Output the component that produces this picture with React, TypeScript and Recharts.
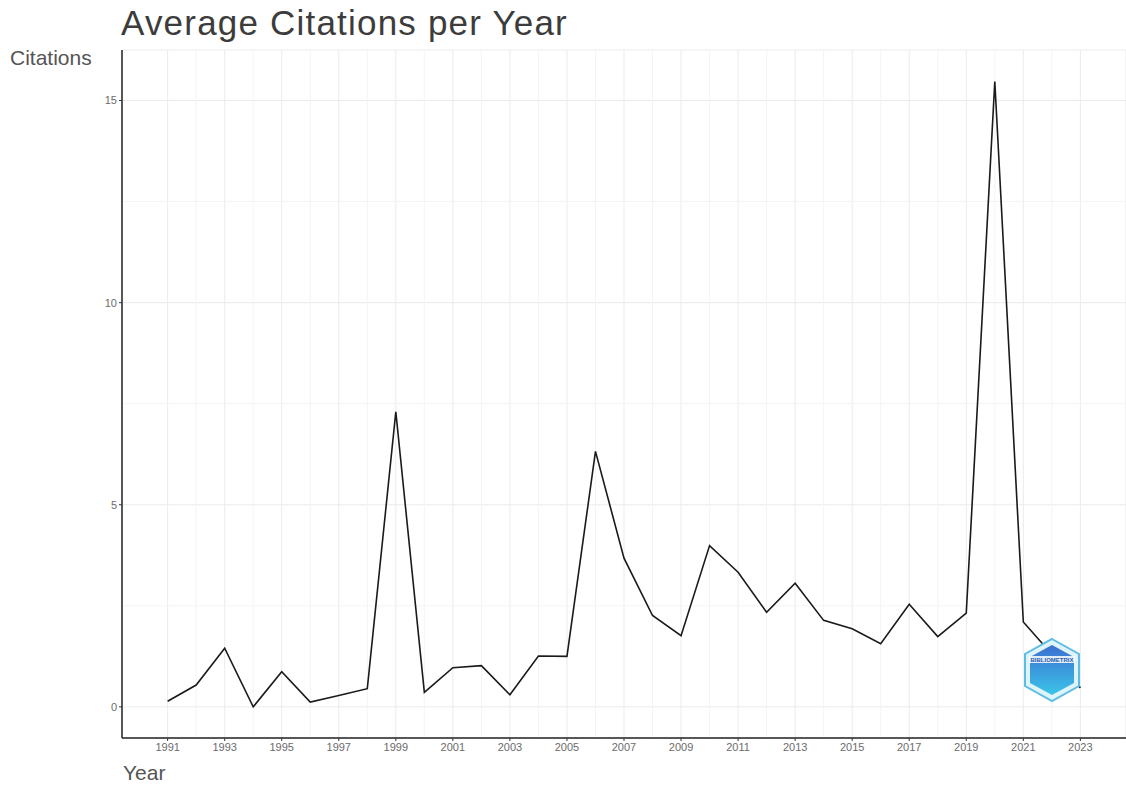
import React from 'react';
import { LineChart, Line, XAxis, YAxis, CartesianGrid, ReferenceLine } from 'recharts';

const years = [
  1991, 1992, 1993, 1994, 1995, 1996, 1997, 1998, 1999, 2000, 2001,
  2002, 2003, 2004, 2005, 2006, 2007, 2008, 2009, 2010, 2011, 2012,
  2013, 2014, 2015, 2016, 2017, 2018, 2019, 2020, 2021, 2022, 2023,
];
const citations = [
  0.14, 0.54, 1.45, 0.0, 0.87, 0.12, 0.28, 0.45, 7.3, 0.36, 0.97,
  1.02, 0.3, 1.26, 1.25, 6.32, 3.68, 2.26, 1.76, 3.99, 3.33, 2.34,
  3.06, 2.14, 1.93, 1.56, 2.54, 1.74, 2.32, 15.47, 2.1, 1.3, 0.47,
];
const xTicks = [1991, 1993, 1995, 1997, 1999, 2001, 2003, 2005, 2007, 2009, 2011, 2013, 2015, 2017, 2019, 2021, 2023];
const minorYears = [1992, 1994, 1996, 1998, 2000, 2002, 2004, 2006, 2008, 2010, 2012, 2014, 2016, 2018, 2020, 2022];
const yTicks = [0, 5, 10, 15];
const minorY = [2.5, 7.5, 12.5];

const data = years.map((year, i) => ({ year, value: citations[i] }));

const font = '"Liberation Sans", Arial, sans-serif';
const gridColor = '#ebebeb';

// small stand-in for the bibliometrix badge in the corner
const Badge = () => (
  <svg width={60} height={66} style={{ position: 'absolute', left: 1022, top: 637 }}>
    <defs>
      <linearGradient id="badge" x1="0" y1="0" x2="0" y2="1">
        <stop offset="0%" stopColor="#3b6fd0" />
        <stop offset="100%" stopColor="#3bc4e8" />
      </linearGradient>
    </defs>
    <polygon points="30,2 57,17 57,49 30,64 3,49 3,17" fill="#dff3fb" stroke="#5bbde4" strokeWidth={2} />
    <polygon points="30,8 52,20 52,46 30,58 8,46 8,20" fill="url(#badge)" />
    <rect x={7} y={19} width={46} height={7} fill="#ffffff" opacity={0.85} />
    <text x={30} y={25} textAnchor="middle" fontSize={6} fontFamily={font} fill="#2a5db0" fontWeight={700}>BIBLIOMETRIX</text>
  </svg>
);

export default function App() {
  return (
    <div style={{ position: 'absolute', left: 0, top: 0, width: 1126, height: 787, background: '#fff', fontFamily: font }}>
      <LineChart width={1126} height={787} data={data} margin={{ top: 50, right: 0, bottom: 0, left: 0 }}>
        <CartesianGrid stroke={gridColor} strokeWidth={1} />
        {minorYears.map((y) => (
          <ReferenceLine key={`mx-${y}`} x={y} stroke="#f4f4f4" strokeWidth={1} />
        ))}
        {minorY.map((v) => (
          <ReferenceLine key={`my-${v}`} y={v} stroke="#f4f4f4" strokeWidth={1} />
        ))}
        <XAxis
          dataKey="year"
          type="number"
          domain={[1989.4, 2024.6]}
          ticks={xTicks}
          allowDataOverflow
          height={49}
          axisLine={{ stroke: '#222', strokeWidth: 1.5 }}
          tickLine={{ stroke: '#333' }}
          tickSize={3}
          tick={{ fontSize: 11, fill: '#6b6b6b', fontFamily: font }}
        />
        <YAxis
          type="number"
          domain={[-0.77, 16.25]}
          ticks={yTicks}
          allowDataOverflow
          width={122}
          axisLine={{ stroke: '#222', strokeWidth: 1.5 }}
          tickLine={{ stroke: '#333' }}
          tickSize={3}
          tick={{ fontSize: 11, fill: '#6b6b6b', fontFamily: font }}
        />
        <Line
          type="linear"
          dataKey="value"
          stroke="#1a1a1a"
          strokeWidth={1.6}
          dot={false}
          isAnimationActive={false}
        />
      </LineChart>
      <div style={{ position: 'absolute', left: 121, top: 2, fontSize: 35, letterSpacing: 1.2, color: '#3c3c3c', lineHeight: '42px' }}>
        Average Citations per Year
      </div>
      <div style={{ position: 'absolute', left: 10, top: 46, fontSize: 21, color: '#555', lineHeight: '24px' }}>
        Citations
      </div>
      <div style={{ position: 'absolute', left: 123, top: 761, fontSize: 21, color: '#555', lineHeight: '24px' }}>
        Year
      </div>
      <Badge />
    </div>
  );
}
